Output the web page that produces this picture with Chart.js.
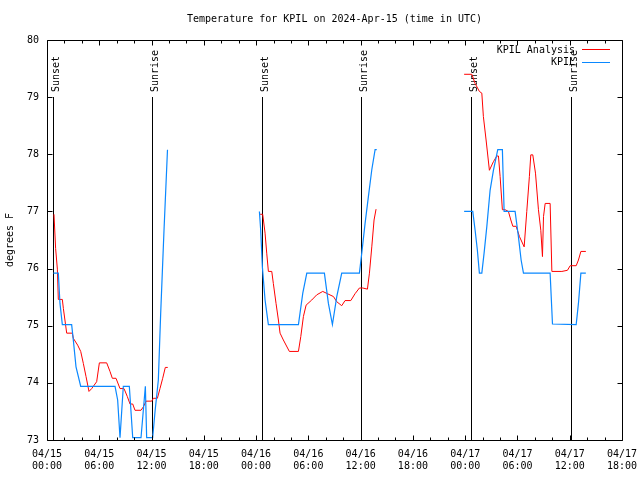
<!DOCTYPE html>
<html>
<head>
<meta charset="utf-8">
<script src="https://cdn.jsdelivr.net/npm/chart.js@4.4.1/dist/chart.umd.min.js"></script>
<style>
  body { margin: 0; background: #fff; }
  canvas { display: block; }
</style>
</head>
<body>
<canvas id="tempChart" width="640" height="480"></canvas>
<script>
// hours since 04/15 00:00 UTC, null temp = gap between days
const analysisHours = [
  0.80, 0.99, 1.19, 1.30, 1.76, 1.88, 2.26, 2.91, 3.02, 3.52, 3.87, 4.17, 4.48, 4.82, 5.13, 5.70,
  6.01, 6.85, 7.23, 7.50, 7.92, 8.38, 8.84, 9.22, 9.53, 9.84, 10.10, 10.79, 11.06, 11.37, 12.02,
  12.21, 12.67, 12.97, 13.28, 13.58, 13.86,
  20,
  24.46, 24.76, 25.03, 25.22, 25.41, 25.80, 25.98, 26.29, 26.56, 26.75, 27.13, 27.82, 28.86, 29.13,
  29.43, 29.74, 30.39, 30.96, 31.65, 32.19, 32.88, 33.26, 33.83, 34.21, 34.87, 35.36, 35.86, 36.25,
  36.78, 37.01, 37.28, 37.54, 37.77, 37.85,
  44,
  47.88, 48.76, 49.14, 49.63, 49.91, 50.09, 50.40, 50.78, 51.24, 51.63, 51.82, 52.01, 52.27, 52.58,
  52.96, 53.24, 53.47, 53.85, 54.23, 54.77, 55.07, 55.37, 55.53, 55.76, 56.07, 56.41, 56.68, 56.87,
  56.99, 57.18, 57.75, 57.95, 59.10, 59.74, 60.05, 60.74, 61.00, 61.28, 61.85
];
const analysisTemps = [
  76.95, 76.35, 75.99, 75.46, 75.46, 75.30, 74.87, 74.87, 74.78, 74.66, 74.55, 74.34, 74.11, 73.85, 73.90, 74.02,
  74.35, 74.35, 74.20, 74.08, 74.08, 73.90, 73.90, 73.76, 73.63, 73.63, 73.52, 73.52, 73.58, 73.68, 73.68,
  73.73, 73.73, 73.90, 74.08, 74.27, 74.27,
  null,
  76.95, 76.95, 76.62, 76.27, 75.95, 75.95, 75.74, 75.39, 75.10, 74.87, 74.75, 74.55, 74.55, 74.81,
  75.16, 75.36, 75.45, 75.54, 75.60, 75.56, 75.51, 75.42, 75.35, 75.44, 75.44, 75.56, 75.66, 75.66,
  75.64, 75.92, 76.38, 76.85, 77.04, 77.04,
  null,
  79.40, 79.40, 79.24, 79.10, 79.07, 78.66, 78.25, 77.72, 77.87, 77.97, 77.97, 77.61, 77.03, 77.03,
  77.00, 76.85, 76.74, 76.74, 76.56, 76.38, 77.00, 77.61, 77.99, 77.99, 77.67, 77.03, 76.67, 76.21,
  76.91, 77.14, 77.14, 75.95, 75.95, 75.97, 76.05, 76.05, 76.15, 76.30, 76.30
];

const obsHours = [
  0.73, 1.30, 1.49, 1.76, 2.83, 3.02, 3.33, 3.87, 7.81, 8.11, 8.38, 8.76, 9.45, 9.84, 10.79,
  11.29, 11.44, 12.13, 12.40, 12.78, 13.05, 13.43, 13.83,
  20,
  24.38, 24.53, 24.72, 25.03, 25.41, 28.86, 29.36, 29.82, 31.84, 32.30, 32.76, 33.26, 33.83,
  35.86, 36.13, 36.51, 36.89, 37.28, 37.66, 37.85,
  44,
  47.88, 48.87, 49.14, 49.40, 49.63, 49.91, 50.17, 50.48, 50.86, 51.24, 51.74, 52.27, 52.47,
  53.73, 54.11, 54.42, 54.69, 57.75, 58.02, 60.74, 61.00, 61.28, 61.85
];
const obsTemps = [
  75.92, 75.92, 75.39, 75.02, 75.02, 74.75, 74.28, 73.94, 73.94, 73.70, 73.04, 73.94, 73.94, 73.04, 73.04,
  73.94, 73.04, 73.04, 73.50, 74.05, 75.22, 76.67, 78.08,
  null,
  77.00, 76.67, 76.03, 75.45, 75.02, 75.02, 75.57, 75.92, 75.92, 75.39, 75.02, 75.51, 75.92,
  75.92, 76.27, 76.79, 77.26, 77.73, 78.08, 78.08,
  null,
  77.00, 77.00, 76.67, 76.32, 75.92, 75.92, 76.27, 76.73, 77.37, 77.72, 78.08, 78.08, 77.00,
  77.00, 76.56, 76.15, 75.92, 75.92, 75.03, 75.02, 75.39, 75.92, 75.92
];

const sunsetHours = [0.72, 24.72, 48.72];
const sunriseHours = [12.09, 36.09, 60.09];

const FONT = 'DejaVu Sans Mono';

function toPoints(hours, temps) {
  return hours.map((h, i) => ({ x: h, y: temps[i] }));
}

// sunrise/sunset markers, frame with inward ticks, and the inside legend
const gnuplotDecor = {
  id: 'gnuplotDecor',
  beforeDatasetsDraw(chart) {
    const { ctx, scales: { x, y } } = chart;
    const top = Math.round(y.getPixelForValue(79));
    const bottom = Math.round(y.getPixelForValue(73));
    ctx.save();
    ctx.strokeStyle = '#000';
    ctx.fillStyle = '#000';
    ctx.lineWidth = 1;
    ctx.font = '10px ' + FONT;
    const marks = sunsetHours.map(h => [h, 'Sunset']).concat(sunriseHours.map(h => [h, 'Sunrise']));
    marks.forEach(([h, name]) => {
      const px = Math.round(x.getPixelForValue(h)) + 0.5;
      ctx.beginPath();
      ctx.moveTo(px, top);
      ctx.lineTo(px, bottom);
      ctx.stroke();
      ctx.save();
      ctx.translate(px + 5, top - 5);
      ctx.rotate(-Math.PI / 2);
      ctx.textAlign = 'left';
      ctx.textBaseline = 'alphabetic';
      ctx.fillText(name, 0, 0);
      ctx.restore();
    });
    ctx.restore();
  },
  afterDatasetsDraw(chart) {
    const { ctx, chartArea: a, scales: { x, y } } = chart;
    const L = Math.round(a.left) + 0.5, R = Math.round(a.right) + 0.5;
    const T = Math.round(a.top) + 0.5, B = Math.round(a.bottom) + 0.5;
    ctx.save();
    ctx.strokeStyle = '#000';
    ctx.lineWidth = 1;
    ctx.beginPath();
    ctx.rect(L, T, R - L, B - T);
    // x ticks: major every 6 h, minor every 2 h
    for (let h = 0; h <= 66; h += 2) {
      const px = Math.round(x.getPixelForValue(h)) + 0.5;
      const len = h % 6 === 0 ? 5 : 3;
      ctx.moveTo(px, B); ctx.lineTo(px, B - len);
      ctx.moveTo(px, T); ctx.lineTo(px, T + len);
    }
    y.ticks.forEach(t => {
      const py = Math.round(y.getPixelForValue(t.value)) + 0.5;
      ctx.moveTo(L, py); ctx.lineTo(L + 5, py);
      ctx.moveTo(R, py); ctx.lineTo(R - 5, py);
    });
    ctx.stroke();

    // legend, top right inside the frame
    ctx.font = '10px ' + FONT;
    ctx.textAlign = 'right';
    ctx.textBaseline = 'middle';
    chart.data.datasets.forEach((ds, i) => {
      const ly = 50 + i * 12.5;
      ctx.fillStyle = '#000';
      ctx.fillText(ds.label, 575, ly);
      ctx.strokeStyle = ds.borderColor;
      ctx.beginPath();
      ctx.moveTo(582, Math.round(ly) - 0.5);
      ctx.lineTo(610, Math.round(ly) - 0.5);
      ctx.stroke();
    });
    ctx.restore();
  }
};

new Chart(document.getElementById('tempChart'), {
  type: 'line',
  data: {
    datasets: [{
      label: 'KPIL Analysis',
      data: toPoints(analysisHours, analysisTemps),
      borderColor: '#ff0000',
      borderWidth: 1,
      pointRadius: 0,
      spanGaps: false,
      order: 2
    }, {
      label: 'KPIL',
      data: toPoints(obsHours, obsTemps),
      borderColor: '#0a88ff',
      borderWidth: 1.2,
      pointRadius: 0,
      spanGaps: false,
      order: 1
    }]
  },
  options: {
    responsive: false,
    animation: false,
    layout: { padding: { left: 0, right: 18, top: 0, bottom: 0 } },
    plugins: {
      legend: { display: false },
      tooltip: { enabled: false },
      title: {
        display: true,
        text: 'Temperature for KPIL on 2024-Apr-15 (time in UTC)',
        color: '#000',
        fullSize: false,
        font: { family: FONT, size: 10, weight: 'normal', lineHeight: 1.2 },
        padding: { top: 13, bottom: 15 }
      }
    },
    scales: {
      x: {
        type: 'linear',
        min: 0,
        max: 66,
        grid: { display: false, drawTicks: false },
        border: { display: false },
        ticks: {
          stepSize: 6,
          autoSkip: false,
          maxRotation: 0,
          padding: 8,
          color: '#000',
          font: { family: FONT, size: 10, lineHeight: 1.25 },
          callback: (v) => {
            const day = 15 + Math.floor(v / 24);
            const hr = v % 24;
            return ['04/' + day, (hr < 10 ? '0' : '') + hr + ':00'];
          }
        },
        afterFit(scale) {
          scale.height = 40;
          scale.paddingLeft = 0;
          scale.paddingRight = 0;
        }
      },
      y: {
        min: 73,
        max: 80,
        grid: { display: false, drawTicks: false },
        border: { display: false },
        ticks: {
          stepSize: 1,
          padding: 8,
          color: '#000',
          font: { family: FONT, size: 10 }
        },
        title: {
          display: true,
          text: 'degrees F',
          color: '#000',
          font: { family: FONT, size: 10, lineHeight: 1.2 },
          padding: { top: 4, bottom: 0 }
        },
        afterFit(scale) { scale.width = 47; }
      }
    }
  },
  plugins: [gnuplotDecor]
});
</script>
</body>
</html>
